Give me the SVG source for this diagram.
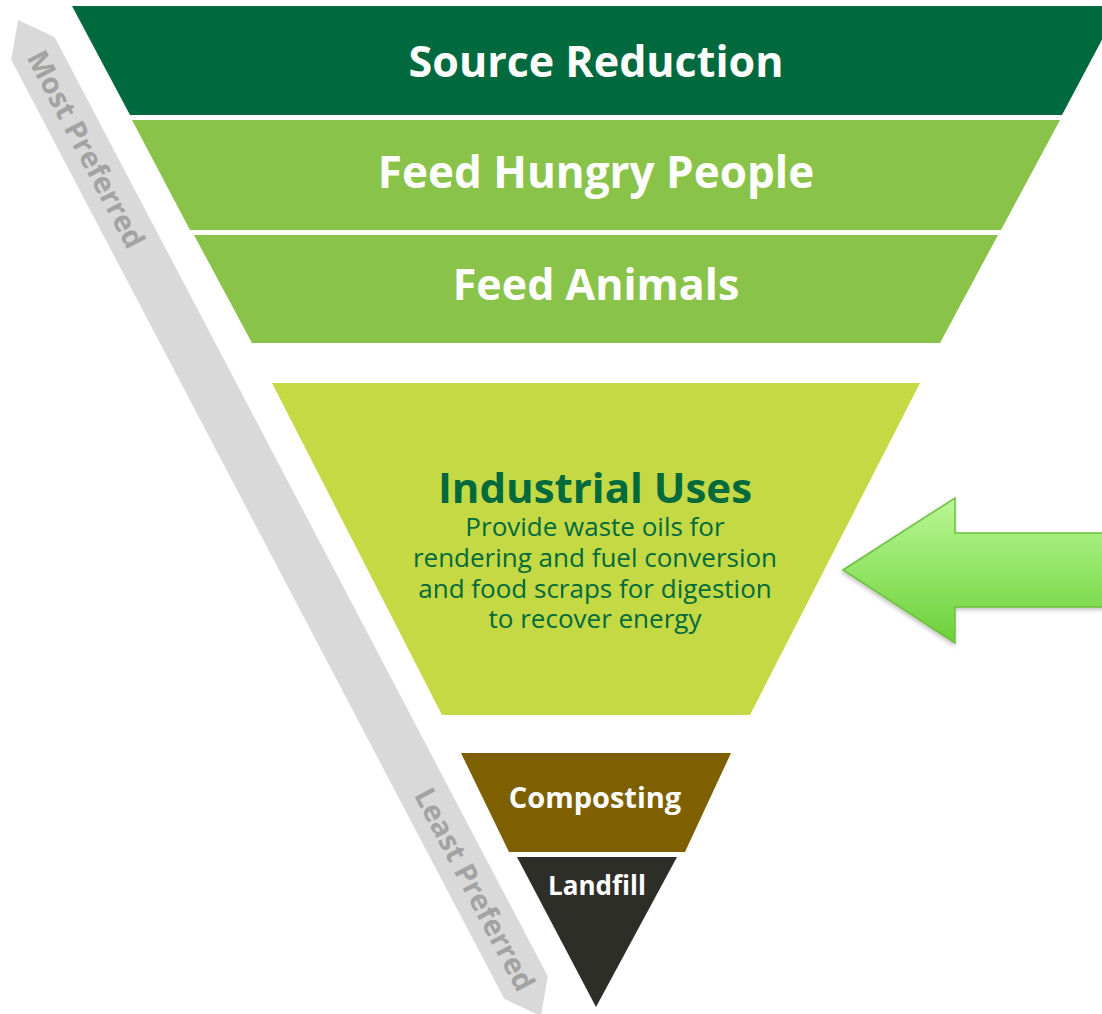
<svg xmlns="http://www.w3.org/2000/svg" width="1102" height="1014" viewBox="0 0 1102 1014">
  <style>
    .lbl { font-family: "Open Sans", "Liberation Sans", sans-serif; font-weight: 700; fill: #ffffff; text-anchor: middle; }
    .big { font-size: 43px; }
    .dark { fill: #006a3d; }
    .sub { font-weight: 400; font-size: 26px; }
    .rank { font-family: "Open Sans", "Liberation Sans", sans-serif; font-weight: 700; font-size: 29px; fill: #a3a3a3; text-anchor: middle; }
  </style>
  <defs>
    <linearGradient id="arrowFill" x1="0" y1="0" x2="0" y2="1">
      <stop offset="0" stop-color="#b8f895"/>
      <stop offset="1" stop-color="#6cd038"/>
    </linearGradient>
    <filter id="softShadow" x="-10%" y="-10%" width="130%" height="130%">
      <feDropShadow dx="-1" dy="2" stdDeviation="2" flood-color="#000000" flood-opacity="0.25"/>
    </filter>
  </defs>

  <rect width="1102" height="1014" fill="#ffffff"/>

  <!-- preference scale along the left side -->
  <g id="preference-scale" transform="translate(18,20) rotate(62.3)">
    <polygon points="0,0 32,-24.5 1093,-24.5 1125,0 1093,24.5 32,24.5" fill="#d9d9d9"/>
    <text class="rank" x="146" y="10">Most Preferred</text>
    <text class="rank" x="982" y="10">Least Preferred</text>
  </g>

  <!-- hierarchy tiers, top to bottom -->
  <g id="source-reduction">
    <polygon points="72,6 1120,6 1062,115 130,115" fill="#006a3e"/>
    <text class="lbl big" x="596" y="77">Source Reduction</text>
  </g>
  <g id="feed-hungry-people">
    <polygon points="132,120 1060,120 1001,230 190,230" fill="#89c34a"/>
    <text class="lbl" x="596" y="188" font-size="44">Feed Hungry People</text>
  </g>
  <g id="feed-animals">
    <polygon points="194,235 998,235 940,343 252,343" fill="#89c34a"/>
    <text class="lbl big" x="596" y="300">Feed Animals</text>
  </g>
  <g id="industrial-uses">
    <polygon points="272,383 920,383 750,715 442,715" fill="#c4d944"/>
    <text class="lbl dark" x="595" y="503" font-size="42">Industrial Uses<tspan class="sub" x="595" y="536">Provide waste oils for</tspan><tspan class="sub" x="595" y="567">rendering and fuel conversion</tspan><tspan class="sub" x="595" y="598">and food scraps for digestion</tspan><tspan class="sub" x="595" y="628">to recover energy</tspan></text>
  </g>
  <g id="composting">
    <polygon points="461,753 731,753 685,852 509,852" fill="#7f6000"/>
    <text class="lbl" x="595" y="808" font-size="29">Composting</text>
  </g>
  <g id="landfill">
    <polygon points="517,857 677,857 596,1007" fill="#2e2e28"/>
    <text class="lbl" x="597" y="895" font-size="26">Landfill</text>
  </g>

  <!-- pointer toward the highlighted tier -->
  <g id="connectors">
    <polygon points="843,570 955,498 955,533 1106,533 1106,607 955,607 955,643" fill="url(#arrowFill)" stroke="#6fbf40" stroke-width="1.5" filter="url(#softShadow)"/>
  </g>
</svg>
